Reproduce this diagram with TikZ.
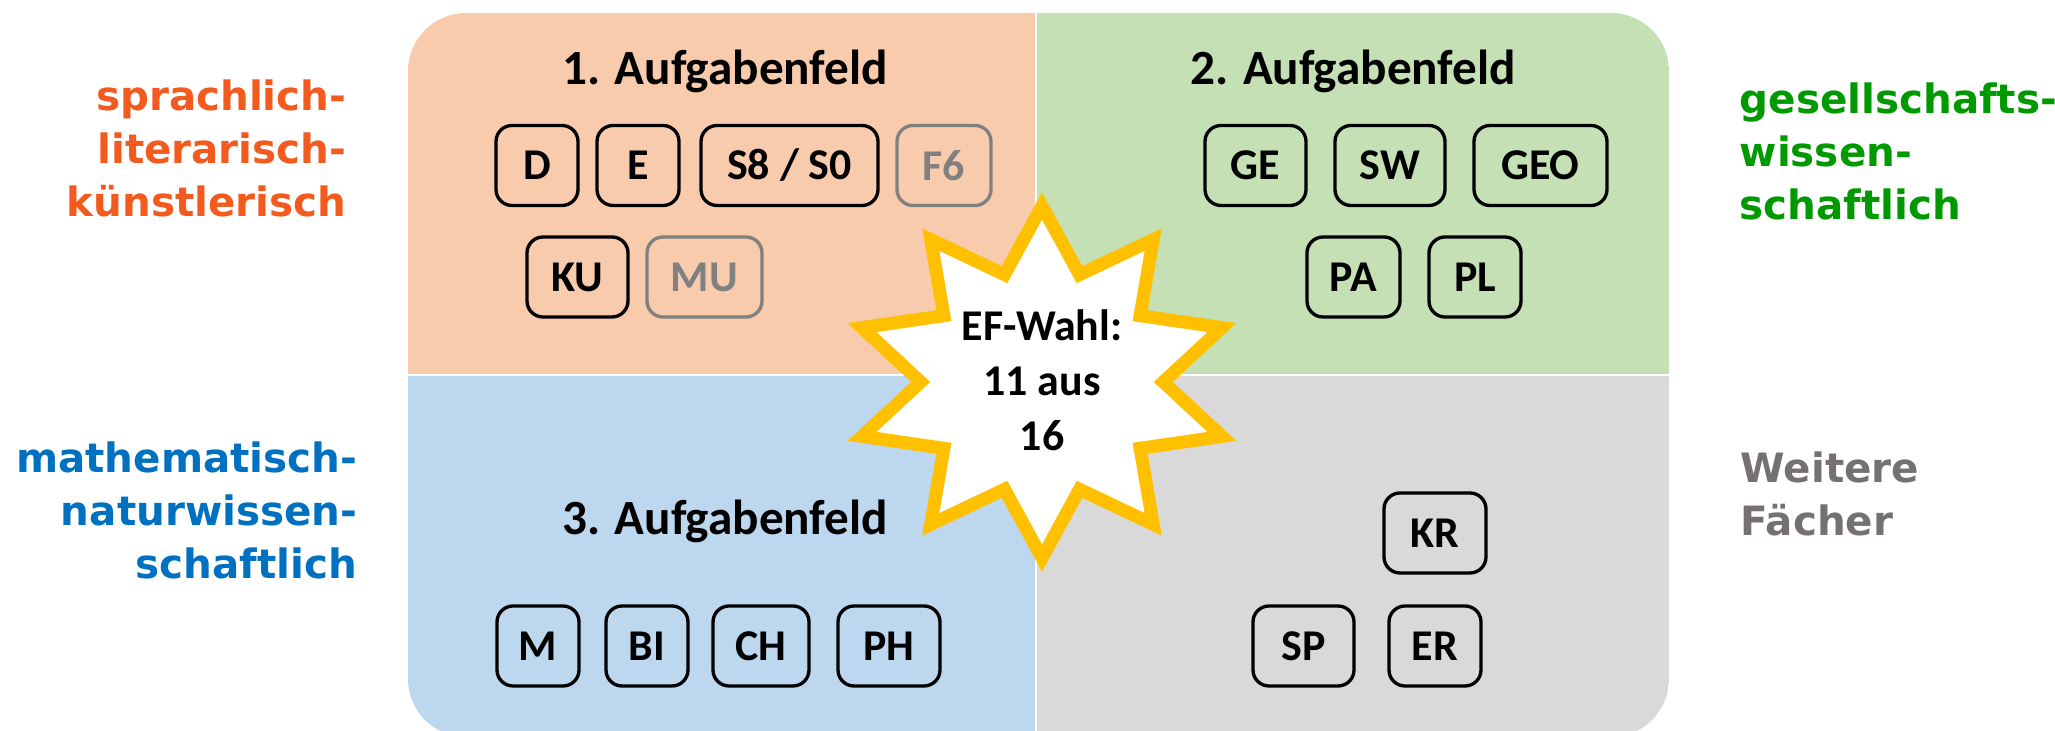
\documentclass[tikz,border=0pt]{standalone}
\usepackage{fontspec}
\setmainfont{Carlito}
\newfontfamily\sidefont{DejaVu Sans}
\usetikzlibrary{shapes.geometric}

\definecolor{feldorange}{HTML}{F8CBAD}
\definecolor{feldgruen}{HTML}{C5E0B4}
\definecolor{feldblau}{HTML}{BDD7EE}
\definecolor{feldgrau}{HTML}{D9D9D9}
\definecolor{textorange}{HTML}{F25A1E}
\definecolor{textgruen}{HTML}{009A00}
\definecolor{textblau}{HTML}{0070C0}
\definecolor{textgrau}{HTML}{767171}
\definecolor{kastengrau}{HTML}{808080}
\definecolor{sterngelb}{HTML}{FFC000}

\begin{document}
\begin{tikzpicture}[
        x=0.1mm, y=-0.1mm,
        fach/.style={draw, line width=0.95pt, rounded corners=1.6mm,
            minimum width=#1, minimum height=8mm, inner sep=0pt,
            font=\bfseries\fontsize{12.5}{14}\selectfont},
        fach/.default=8.2mm,
        blass/.style={draw=kastengrau, text=kastengrau},
        titel/.style={anchor=base, inner sep=0pt,
            font=\bfseries\fontsize{14}{17}\selectfont},
        seite/.style={inner sep=0pt,
            font=\sidefont\bfseries\fontsize{11.5}{15.1}\selectfont},
        stern/.style={star, star points=10, star point ratio=1.56,
            minimum size=35.2mm, inner sep=0pt, fill=white,
            draw=sterngelb, line width=3.7pt}
    ]
        \useasboundingbox (0, 0) rectangle (2055, 731);

        % vier Felder
        \begin{scope}
            \clip[rounded corners=5.8mm] (408, 13) rectangle (1669, 737);
            \fill[feldorange] (408, 13) rectangle (1036, 375);
            \fill[feldgruen] (1036, 13) rectangle (1669, 375);
            \fill[feldblau] (408, 375) rectangle (1036, 737);
            \fill[feldgrau] (1036, 375) rectangle (1669, 737);
            \draw[white, line width=0.6pt] (1036, 13) -- (1036, 737);
            \draw[white, line width=0.6pt] (408, 375) -- (1669, 375);
        \end{scope}

        \node[titel] (feld1) at (725, 85) {1. Aufgabenfeld};
        \node[titel] (feld2) at (1353, 85) {2. Aufgabenfeld};
        \node[titel] (feld3) at (725, 535) {3. Aufgabenfeld};

        % 1. Aufgabenfeld
        \node[fach] (d) at (537, 165.5) {D};
        \node[fach] (e) at (638, 165.5) {E};
        \node[fach=17.7mm] (s8) at (789.5, 165.5) {S8 / S0};
        \node[fach=9.4mm, blass] (f6) at (944, 165.5) {F6};
        \node[fach=10.1mm] (ku) at (577.5, 277) {KU};
        \node[fach=11.5mm, blass] (mu) at (704.5, 277) {MU};

        % 2. Aufgabenfeld
        \node[fach=10.1mm] (ge) at (1255.5, 165.5) {GE};
        \node[fach=11mm] (sw) at (1390, 165.5) {SW};
        \node[fach=13.3mm] (geo) at (1540.5, 165.5) {GEO};
        \node[fach=9.3mm] (pa) at (1353.5, 277) {PA};
        \node[fach=9.2mm] (pl) at (1475, 277) {PL};

        % 3. Aufgabenfeld
        \node[fach] (m) at (538, 646) {M};
        \node[fach] (bi) at (647, 646) {BI};
        \node[fach=9.6mm] (ch) at (761, 646) {CH};
        \node[fach=10.2mm] (ph) at (889, 646) {PH};

        % weitere Faecher
        \node[fach=10.2mm] (kr) at (1435, 533) {KR};
        \node[fach=10.1mm] (sp) at (1303.5, 646) {SP};
        \node[fach=9.2mm] (er) at (1435, 646) {ER};

        % Stern in der Mitte
        \node[stern, xscale=1.075] (efstern) at (1042, 382) {};
        \node[align=center, inner sep=0pt,
            font=\bfseries\fontsize{12.5}{15.6}\selectfont]
            (efwahl) at (1042, 380) {EF-Wahl:\\11 aus\\16};

        % Beschriftung aussen
        \node[seite, text=textorange, align=right, anchor=north east]
            (sprach) at (347, 79) {sprachlich-\\literarisch-\\künstlerisch};
        \node[seite, text=textblau, align=right, anchor=north east]
            (mathe) at (358, 441) {mathematisch-\\naturwissen-\\schaftlich};
        \node[seite, text=textgruen, align=left, anchor=north west]
            (gesell) at (1739, 82) {gesellschafts-\\wissen-\\schaftlich};
        \node[seite, text=textgrau, align=left, anchor=north west]
            (weitere) at (1740, 451) {Weitere\\Fächer};
    \end{tikzpicture}
\end{document}
